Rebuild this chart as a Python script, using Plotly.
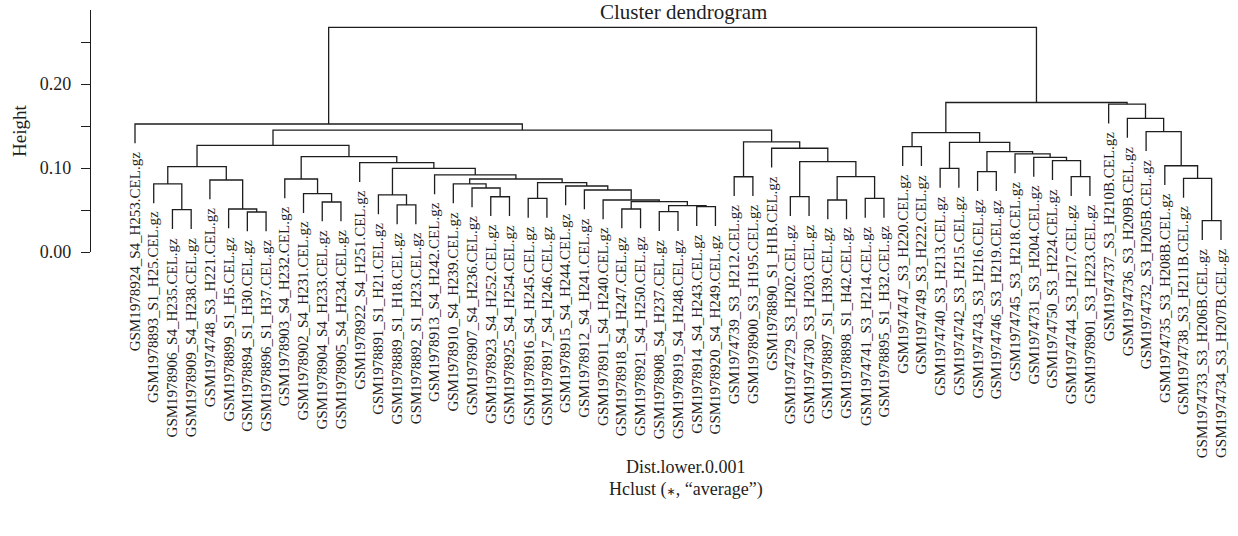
import plotly.graph_objects as go

# ---------------- data ----------------
leaf_labels = [
    "GSM1978924_S4_H253.CEL.gz", "GSM1978893_S1_H25.CEL.gz", "GSM1978906_S4_H235.CEL.gz",
    "GSM1978909_S4_H238.CEL.gz", "GSM1974748_S3_H221.CEL.gz", "GSM1978899_S1_H5.CEL.gz",
    "GSM1978894_S1_H30.CEL.gz", "GSM1978896_S1_H37.CEL.gz", "GSM1978903_S4_H232.CEL.gz",
    "GSM1978902_S4_H231.CEL.gz", "GSM1978904_S4_H233.CEL.gz", "GSM1978905_S4_H234.CEL.gz",
    "GSM1978922_S4_H251.CEL.gz", "GSM1978891_S1_H21.CEL.gz", "GSM1978889_S1_H18.CEL.gz",
    "GSM1978892_S1_H23.CEL.gz", "GSM1978913_S4_H242.CEL.gz", "GSM1978910_S4_H239.CEL.gz",
    "GSM1978907_S4_H236.CEL.gz", "GSM1978923_S4_H252.CEL.gz", "GSM1978925_S4_H254.CEL.gz",
    "GSM1978916_S4_H245.CEL.gz", "GSM1978917_S4_H246.CEL.gz", "GSM1978915_S4_H244.CEL.gz",
    "GSM1978912_S4_H241.CEL.gz", "GSM1978911_S4_H240.CEL.gz", "GSM1978918_S4_H247.CEL.gz",
    "GSM1978921_S4_H250.CEL.gz", "GSM1978908_S4_H237.CEL.gz", "GSM1978919_S4_H248.CEL.gz",
    "GSM1978914_S4_H243.CEL.gz", "GSM1978920_S4_H249.CEL.gz", "GSM1974739_S3_H212.CEL.gz",
    "GSM1978900_S3_H195.CEL.gz", "GSM1978890_S1_H1B.CEL.gz", "GSM1974729_S3_H202.CEL.gz",
    "GSM1974730_S3_H203.CEL.gz", "GSM1978897_S1_H39.CEL.gz", "GSM1978898_S1_H42.CEL.gz",
    "GSM1974741_S3_H214.CEL.gz", "GSM1978895_S1_H32.CEL.gz", "GSM1974747_S3_H220.CEL.gz",
    "GSM1974749_S3_H222.CEL.gz", "GSM1974740_S3_H213.CEL.gz", "GSM1974742_S3_H215.CEL.gz",
    "GSM1974743_S3_H216.CEL.gz", "GSM1974746_S3_H219.CEL.gz", "GSM1974745_S3_H218.CEL.gz",
    "GSM1974731_S3_H204.CEL.gz", "GSM1974750_S3_H224.CEL.gz", "GSM1974744_S3_H217.CEL.gz",
    "GSM1978901_S3_H223.CEL.gz", "GSM1974737_S3_H210B.CEL.gz", "GSM1974736_S3_H209B.CEL.gz",
    "GSM1974732_S3_H205B.CEL.gz", "GSM1974735_S3_H208B.CEL.gz", "GSM1974738_S3_H211B.CEL.gz",
    "GSM1974733_S3_H206B.CEL.gz", "GSM1974734_S3_H207B.CEL.gz",
]

# hclust-style merge table: negative = leaf position (1-based), positive = earlier merge row (1-based)
merge_left = [
    -3, -7, -6, -2, -5, 4, -11, -10, -9, -15,
    -14, -20, -19, -18, -22, -27, -29, -31, 17, 16,
    -26, -25, -24, 15, 14, -17, 11, -13, 9, 6,
    -33, -36, -38, -40, 33, 32, -35, 31, 30, -1,
    -42, -44, -46, -51, -50, -49, -48, 43, 42, 41,
    -58, -57, -56, -55, -54, -53, 50, 40,
]
merge_right = [
    -4, -8, 2, 1, 3, 5, -12, 7, 8, -16,
    10, -21, 12, 13, -23, -28, -30, -32, 18, 19,
    20, 21, 22, 23, 24, 25, 26, 27, 28, 29,
    -34, -37, -39, -41, 34, 35, 36, 37, 38, 39,
    -43, -45, -47, -52, 44, 45, 46, 47, 48, 49,
    -59, 51, 52, 53, 54, 55, 56, 57,
]
merge_height = [
    0.0504, 0.0476, 0.0512, 0.0810, 0.0857, 0.1016, 0.0595, 0.0694, 0.0869, 0.0560,
    0.0679, 0.0658, 0.0762, 0.0810, 0.0639, 0.0512, 0.0480, 0.0540, 0.0552, 0.0599,
    0.0619, 0.0738, 0.0786, 0.0827, 0.0869, 0.0917, 0.0996, 0.1063, 0.1135, 0.1270,
    0.0896, 0.0659, 0.0619, 0.0639, 0.0897, 0.1075, 0.1235, 0.1310, 0.1452, 0.1524,
    0.1254, 0.0996, 0.0956, 0.0897, 0.1087, 0.1127, 0.1167, 0.1194, 0.1305, 0.1420,
    0.0373, 0.0877, 0.1027, 0.1432, 0.1590, 0.1760, 0.1780, 0.2675,
]

y_tickvals = [0.0, 0.05, 0.10, 0.15, 0.20, 0.25]
y_ticktext = ["0.00", "", "0.10", "", "0.20", ""]

# ---------------- geometry from the merge table ----------------
HANG = 0.1 * (max(merge_height) - min(merge_height))
node_x, node_h = [], []
seg_x, seg_y = [], []
leaf_end = {}
for l, r, h in zip(merge_left, merge_right, merge_height):
    kids = []
    for c in (l, r):
        if c < 0:
            cx = -c - 1
            ch = h - HANG
            leaf_end[cx] = ch
        else:
            cx = node_x[c - 1]
            ch = node_h[c - 1]
        kids.append((cx, ch))
    (lx, lh), (rx, rh) = kids
    seg_x += [lx, lx, rx, rx, None]
    seg_y += [lh, h, h, rh, None]
    node_x.append((lx + rx) / 2.0)
    node_h.append(h)

FONT = "Liberation Serif"
INK = "#1e1e1e"

fig = go.Figure()
fig.add_trace(go.Scatter(x=seg_x, y=seg_y, mode="lines",
                         line=dict(color=INK, width=1.3),
                         hoverinfo="skip", showlegend=False))

annotations = []
for i, lab in enumerate(leaf_labels):
    annotations.append(dict(x=i, y=leaf_end[i], xref="x", yref="y", text=lab,
                            textangle=-90, showarrow=False, xanchor="center",
                            yanchor="top", yshift=-6,
                            font=dict(family=FONT, size=15, color=INK)))

W, H = 1238, 536
ML, MR, MT, MB = 91, 0, 10, 284
PW, PH = W - ML - MR, H - MT - MB
px_per_leaf = 18.724
x0 = -(135 - ML) / px_per_leaf
x1 = x0 + PW / px_per_leaf
y1 = PH / 840.0

def paper_x(px):
    return (px - ML) / PW

def paper_y(py):
    return (H - MB - py) / PH

annotations += [
    dict(x=paper_x(683), y=paper_y(12), xref="paper", yref="paper",
         text="Cluster dendrogram", showarrow=False, xanchor="center", yanchor="middle",
         font=dict(family=FONT, size=21, color=INK)),
    dict(x=paper_x(19), y=0.5, xref="paper", yref="paper", text="Height",
         textangle=-90, showarrow=False, xanchor="center", yanchor="middle",
         font=dict(family=FONT, size=19, color=INK)),
    dict(x=paper_x(686), y=paper_y(467), xref="paper", yref="paper",
         text="Dist.lower.0.001", showarrow=False, xanchor="center", yanchor="middle",
         font=dict(family=FONT, size=18, color=INK)),
    dict(x=paper_x(686), y=paper_y(489), xref="paper", yref="paper",
         text="Hclust (<span style='font-family:DejaVu Sans;font-size:11px'>\u2217</span>, \u201caverage\u201d)",
         showarrow=False, xanchor="center", yanchor="middle",
         font=dict(family=FONT, size=18, color=INK)),
]

fig.update_layout(
    width=W, height=H,
    margin=dict(l=ML, r=MR, t=MT, b=MB),
    paper_bgcolor="white", plot_bgcolor="white",
    xaxis=dict(visible=False, range=[x0, x1], fixedrange=True),
    yaxis=dict(range=[0, y1], tickvals=y_tickvals, ticktext=y_ticktext,
               showline=True, linecolor=INK, linewidth=1.3,
               ticks="outside", ticklen=9, tickwidth=1.3, tickcolor=INK,
               showgrid=False, zeroline=False, ticklabelstandoff=6,
               tickfont=dict(family=FONT, size=18, color=INK), fixedrange=True),
    annotations=annotations,
    showlegend=False,
)

fig.write_html("out.html")
